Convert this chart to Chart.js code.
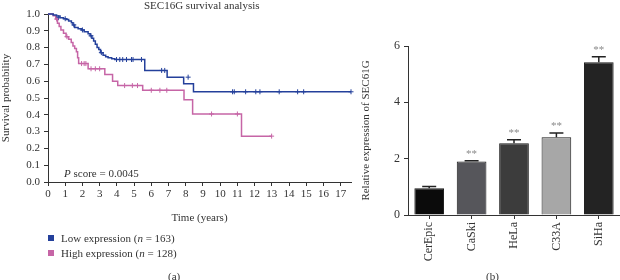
<!DOCTYPE html>
<html>
<head>
<meta charset="utf-8">
<script src="https://cdn.jsdelivr.net/npm/chart.js@4.4.1/dist/chart.umd.min.js"></script>
<style>
  body { margin: 0; background: #fff; }
  #wrap { position: relative; width: 620px; height: 280px; overflow: hidden; font-family: "Liberation Serif", "DejaVu Serif", serif; color: #333; }
  canvas { position: absolute; top: 0; }
  .txt { position: absolute; font-size: 11px; white-space: nowrap; line-height: 12px; }
  .sw { position: absolute; width: 6px; height: 6px; }
</style>
</head>
<body>
<div id="wrap">
  <canvas id="km" width="360" height="280" style="left:0"></canvas>
  <canvas id="bars" width="260" height="280" style="left:360px"></canvas>

  <div class="txt" style="left:144px; top:-1px;">SEC16G survival analysis</div>
  <div class="txt" style="left:64px; top:167px;"><i>P</i> score = 0.0045</div>
  <div class="sw" style="left:48px; top:235px; background:#24409b"></div>
  <div class="txt" style="left:61px; top:232px;">Low expression (<i>n</i> = 163)</div>
  <div class="sw" style="left:48px; top:250px; background:#c665a6"></div>
  <div class="txt" style="left:61px; top:247px;">High expression (<i>n</i> = 128)</div>
  <div class="txt" style="left:168px; top:270px;">(a)</div>
  <div class="txt" style="left:486px; top:270px;">(b)</div>
</div>
<script>
// ---- panel (a): Kaplan-Meier curves ----
const xTicks = [0, 1, 2, 3, 4, 5, 6, 7, 8, 9, 10, 11, 12, 13, 14, 15, 16, 17];
const yTicks = [0, 0.1, 0.2, 0.3, 0.4, 0.5, 0.6, 0.7, 0.8, 0.9, 1.0];

const lowTimes = [0, 0.3, 0.5, 0.7, 0.9, 1.07, 1.2, 1.36, 1.45, 1.55, 1.75, 1.94, 2.1, 2.33, 2.45, 2.55, 2.65, 2.75, 2.85, 2.95, 3.05, 3.2, 3.35, 3.49, 3.7, 3.88, 5.62, 6.92, 7.88, 8.45, 17.6];
const lowSurv  = [1.0, 0.994, 0.988, 0.978, 0.972, 0.967, 0.958, 0.948, 0.935, 0.92, 0.912, 0.905, 0.895, 0.882, 0.87, 0.855, 0.84, 0.82, 0.80, 0.789, 0.77, 0.755, 0.745, 0.739, 0.734, 0.729, 0.664, 0.624, 0.585, 0.537, 0.537];
const lowCensorT = [0.6, 1.0, 1.5, 2.0, 2.5, 3.1, 3.98, 4.17, 4.34, 4.56, 4.85, 4.94, 5.43, 6.6, 6.78, 8.14, 10.72, 10.82, 11.48, 12.07, 12.31, 13.43, 14.5, 14.85, 17.6];
const lowCensorS = [0.978, 0.972, 0.935, 0.905, 0.87, 0.77, 0.729, 0.729, 0.729, 0.729, 0.729, 0.729, 0.729, 0.664, 0.664, 0.624, 0.537, 0.537, 0.537, 0.537, 0.537, 0.537, 0.537, 0.537, 0.537];

const highTimes = [0, 0.3, 0.45, 0.55, 0.65, 0.75, 0.9, 1.05, 1.2, 1.35, 1.45, 1.55, 1.65, 1.72, 1.78, 2.33, 3.3, 3.75, 4.05, 5.5, 7.9, 8.4, 11.24, 12.99];
const highSurv  = [1.0, 0.99, 0.97, 0.945, 0.925, 0.905, 0.885, 0.865, 0.85, 0.83, 0.81, 0.795, 0.775, 0.74, 0.705, 0.674, 0.64, 0.60, 0.574, 0.546, 0.49, 0.405, 0.273, 0.273];
const highCensorT = [0.5, 1.1, 1.95, 2.1, 2.2, 2.5, 2.75, 3.0, 4.45, 4.9, 5.2, 6.0, 6.5, 6.9, 9.5, 11.0, 12.99];
const highCensorS = [0.97, 0.865, 0.705, 0.705, 0.705, 0.674, 0.674, 0.674, 0.574, 0.574, 0.574, 0.546, 0.546, 0.546, 0.405, 0.405, 0.273];

// ---- panel (b): bar chart ----
const cellLines = ['CerEpic', 'CaSki', 'HeLa', 'C33A', 'SiHa'];
const expression = [0.95, 1.9, 2.55, 2.76, 5.42];
const expressionErr = [0.06, 0.03, 0.12, 0.15, 0.2];
const signif = ['', '**', '**', '**', '**'];
const barTicks = [0, 2, 4, 6];

const BLUE = '#24409b';
const PINK = '#c665a6';
const FONT = { family: "'Liberation Serif', 'DejaVu Serif', serif", size: 11 };
const AXIS = '#333';

Chart.defaults.font = FONT;
Chart.defaults.color = '#333';

const pts = (xs, ys) => xs.map((x, i) => ({ x: x, y: ys[i] }));

new Chart(document.getElementById('km'), {
    type: 'line',
    data: {
        datasets: [
            { label: 'Low expression', data: pts(lowTimes, lowSurv), borderColor: BLUE, borderWidth: 1.5, stepped: true, pointRadius: 0, clip: 6 },
            { label: 'High expression', data: pts(highTimes, highSurv), borderColor: PINK, borderWidth: 1.5, stepped: true, pointRadius: 0, clip: 6 },
            { label: 'low censored', data: pts(lowCensorT, lowCensorS), showLine: false, pointStyle: 'cross', pointRadius: 2.5, borderColor: BLUE, borderWidth: 1, clip: 6 },
            { label: 'high censored', data: pts(highCensorT, highCensorS), showLine: false, pointStyle: 'cross', pointRadius: 2.5, borderColor: PINK, borderWidth: 1, clip: 6 }
        ]
    },
    options: {
        responsive: false,
        animation: false,
        layout: { padding: { top: 14, right: 9, bottom: 0, left: 0 } },
        plugins: { legend: { display: false }, tooltip: { enabled: false } },
        scales: {
            x: {
                type: 'linear', min: 0, max: 17.6,
                afterBuildTicks: s => { s.ticks = xTicks.map(v => ({ value: v })); },
                afterFit: s => { s.height = 98; },
                border: { color: AXIS, width: 1 },
                grid: { drawOnChartArea: false, tickLength: 4, color: AXIS },
                ticks: { padding: 2, maxRotation: 0, autoSkip: false },
                title: { display: true, text: 'Time (years)', padding: { top: 4, bottom: 55 } }
            },
            y: {
                min: 0, max: 1,
                afterBuildTicks: s => { s.ticks = yTicks.map(v => ({ value: v })); },
                afterFit: s => { s.width = 48; },
                border: { color: AXIS, width: 1 },
                grid: { drawOnChartArea: false, tickLength: 4, color: AXIS },
                ticks: { padding: 4, callback: v => v.toFixed(1) },
                title: { display: true, text: 'Survival probability', padding: 0 }
            }
        }
    }
});

// error bars and significance stars, positioned through the chart's scales
const errorBars = {
    id: 'errorBars',
    afterDatasetsDraw(chart) {
        const ctx = chart.ctx;
        const ys = chart.scales.y;
        const meta = chart.getDatasetMeta(0);
        ctx.save();
        meta.data.forEach((bar, i) => {
            const top = ys.getPixelForValue(expression[i] + expressionErr[i]);
            const base = ys.getPixelForValue(expression[i]);
            ctx.strokeStyle = '#222';
            ctx.lineWidth = 1.5;
            ctx.beginPath();
            ctx.moveTo(bar.x, base);
            ctx.lineTo(bar.x, top);
            ctx.moveTo(bar.x - 7, top);
            ctx.lineTo(bar.x + 7, top);
            ctx.stroke();
            if (signif[i]) {
                ctx.fillStyle = '#8a8a8a';
                ctx.font = "11px 'Liberation Serif', serif";
                ctx.textAlign = 'center';
                ctx.textBaseline = 'bottom';
                ctx.fillText(signif[i], bar.x, top - 1);
            }
        });
        ctx.restore();
    }
};

new Chart(document.getElementById('bars'), {
    type: 'bar',
    data: {
        labels: cellLines,
        datasets: [{
            data: expression,
            backgroundColor: ['#0b0b0b', '#56565b', '#3c3c3c', '#a7a7a7', '#232323'],
            borderColor: '#1a1a1a',
            borderWidth: 1,
            barPercentage: 0.7,
            categoryPercentage: 1
        }]
    },
    options: {
        responsive: false,
        animation: false,
        layout: { padding: { top: 46, right: 0, bottom: 0, left: 0 } },
        plugins: { legend: { display: false }, tooltip: { enabled: false } },
        scales: {
            x: {
                afterFit: s => { s.height = 65; },
                border: { color: AXIS, width: 1 },
                grid: { drawOnChartArea: false, offset: false, tickLength: 4, color: AXIS },
                ticks: { minRotation: 90, maxRotation: 90, autoSkip: false, padding: 3, font: { size: 12 } }
            },
            y: {
                min: 0, max: 6,
                afterBuildTicks: s => { s.ticks = barTicks.map(v => ({ value: v })); },
                afterFit: s => { s.width = 48; },
                border: { color: AXIS, width: 1 },
                grid: { drawOnChartArea: false, tickLength: 4, color: AXIS },
                ticks: { padding: 4, font: { size: 12 } },
                title: { display: true, text: 'Relative expression of SEC61G', padding: 0 }
            }
        }
    },
    plugins: [errorBars]
});
</script>
</body>
</html>
